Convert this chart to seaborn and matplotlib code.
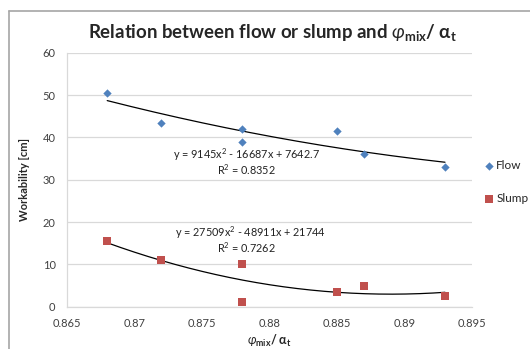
import numpy as np
import pandas as pd
import matplotlib
matplotlib.use('Agg')
import matplotlib.pyplot as plt
import seaborn as sns
from matplotlib.lines import Line2D

## data
ratio = [0.868, 0.872, 0.878, 0.878, 0.885, 0.887, 0.893]
flow = [50.5, 43.5, 42.0, 39.0, 41.5, 36.0, 33.0]
slump = [15.5, 11.0, 10.0, 1.0, 3.5, 5.0, 2.5]

flow_eq = ['y = 9145x$^2$ - 16687x + 7642.7', 'R$^2$ = 0.8352']
slump_eq = ['y = 27509x$^2$ - 48911x + 21744', 'R$^2$ = 0.7262']

x_ticks = [0.865, 0.87, 0.875, 0.88, 0.885, 0.89, 0.895]
x_labels = ['0.865', '0.87', '0.875', '0.88', '0.885', '0.89', '0.895']
y_ticks = [0, 10, 20, 30, 40, 50, 60]

flow_color = '#4f81bd'
slump_color = '#c0504d'

df = pd.DataFrame({'ratio': ratio, 'Flow': flow, 'Slump': slump})

sns.set_style('white')
plt.rcParams['font.family'] = ['Lato', 'DejaVu Sans']
plt.rcParams['mathtext.fontset'] = 'custom'
plt.rcParams['mathtext.rm'] = 'Lato'
plt.rcParams['mathtext.it'] = 'Lato:italic'
plt.rcParams['mathtext.bf'] = 'Lato:bold'

fig = plt.figure(figsize=(5.30, 3.49), dpi=100)
ax = fig.add_axes([0.1258, 0.1212, 0.7648, 0.7278])

## scatter points
sns.scatterplot(data=df, x='ratio', y='Flow', ax=ax, marker='D', s=18,
                color=flow_color, linewidth=0, label='Flow', zorder=3)
sns.scatterplot(data=df, x='ratio', y='Slump', ax=ax, marker='s', s=34,
                color=slump_color, linewidth=0, label='Slump', zorder=3)

## 2nd order trend lines
xs = np.linspace(min(ratio), max(ratio), 200)
for col in ['Flow', 'Slump']:
    coef = np.polyfit(df['ratio'], df[col], 2)
    ax.plot(xs, np.polyval(coef, xs), color='black', lw=0.9, zorder=2)

## equation labels
ax.text(0.8783, 35.8, flow_eq[0], ha='center', va='center', fontsize=7.8,
        color='#222222')
ax.text(0.8783, 32.4, flow_eq[1], ha='center', va='center', fontsize=7.8,
        color='#222222')
ax.text(0.8786, 17.4, slump_eq[0], ha='center', va='center', fontsize=7.8,
        color='#222222')
ax.text(0.8783, 13.9, slump_eq[1], ha='center', va='center', fontsize=7.8,
        color='#222222')

ax.set_xlim(0.865, 0.895)
ax.set_ylim(0, 60)
ax.set_xticks(x_ticks)
ax.set_xticklabels(x_labels)
ax.set_yticks(y_ticks)
ax.tick_params(axis='both', length=0, labelsize=8, labelcolor='#404040')
ax.tick_params(axis='y', pad=8)
ax.tick_params(axis='x', pad=8)
ax.yaxis.grid(True, color='#d9d9d9', lw=0.9)
ax.set_axisbelow(True)
for side in ['top', 'right']:
    ax.spines[side].set_visible(False)
for side in ['left', 'bottom']:
    ax.spines[side].set_color('#d9d9d9')
    ax.spines[side].set_linewidth(0.9)

ax.set_ylabel('Workability [cm]', fontsize=8, fontweight='bold', labelpad=9)
ax.set_xlabel(r'$\varphi_{\mathbf{mix}}$/ $\mathbf{\alpha_t}$',
              fontsize=9, fontweight='bold', labelpad=3)

fig.text(0.515, 0.908,
         r'Relation between flow or slump and $\varphi_{\mathbf{mix}}$/ $\mathbf{\alpha_t}$',
         ha='center', va='center', fontsize=13.4, fontweight='bold')

ax.legend(loc='upper left', bbox_to_anchor=(0.903, 0.555),
          bbox_transform=fig.transFigure, frameon=False, fontsize=8.5,
          handletextpad=0.1, handlelength=1.0, labelspacing=1.85,
          borderaxespad=0)

## chart area border (partly cropped)
fig.add_artist(Line2D([0.017, 1.0], [0.968, 0.968], color='#a6a6a6', lw=1.2,
                      transform=fig.transFigure))
fig.add_artist(Line2D([0.017, 0.017], [0.0, 0.968], color='#a6a6a6', lw=1.2,
                      transform=fig.transFigure))

fig.savefig('out.png', dpi=100)
